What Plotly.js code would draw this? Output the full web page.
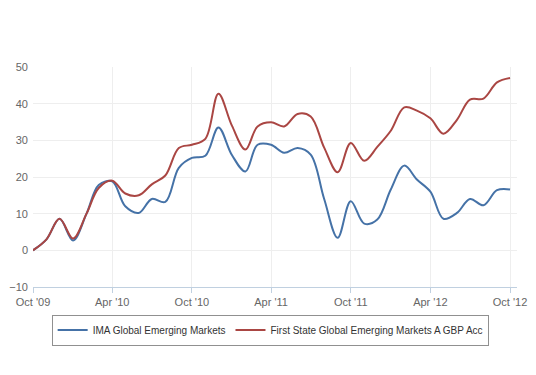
<!DOCTYPE html>
<html>
<head>
<meta charset="utf-8">
<script src="https://cdn.plot.ly/plotly-3.0.1.min.js"></script>
<style>html,body{margin:0;padding:0;background:#fff;}#chart{width:536px;height:375px;}</style>
</head>
<body>
<div id="chart"></div>
<script>
const months = [
  "2009-10-01","2009-11-01","2009-12-01","2010-01-01","2010-02-01","2010-03-01","2010-04-01",
  "2010-05-01","2010-06-01","2010-07-01","2010-08-01","2010-09-01","2010-10-01","2010-11-01",
  "2010-12-01","2011-01-01","2011-02-01","2011-03-01","2011-04-01","2011-05-01","2011-06-01",
  "2011-07-01","2011-08-01","2011-09-01","2011-10-01","2011-11-01","2011-12-01","2012-01-01",
  "2012-02-01","2012-03-01","2012-04-01","2012-05-01","2012-06-01","2012-07-01","2012-08-01",
  "2012-09-01","2012-10-01"
];
const imaValues = [
  0, 3, 8.6, 2.7, 10, 17.8, 18.8, 12, 10.2, 14, 13.2, 22.5, 25.2, 25.8, 33.5, 26,
  21.5, 28.8, 28.8, 26.6, 27.9, 26.1, 14, 3.4, 13.4, 7.3, 8.4, 16.6, 23.1, 19.3, 16,
  8.6, 10.2, 14, 12.3, 16.4, 16.6
];
const firstStateValues = [
  0, 3, 8.6, 3.2, 10, 17, 19, 15.5, 15, 18, 20.4, 27.9, 28.8, 30.4, 42.7, 34,
  27.5, 33.8, 34.9, 33.8, 37.2, 36.5, 28, 21.3, 29.3, 24.4, 28.2, 32.6, 39, 38.1, 36,
  31.8, 35.6, 41.1, 41.4, 45.8, 47
];
const seriesNames = ["IMA Global Emerging Markets", "First State Global Emerging Markets A GBP Acc"];

const traces = [
  {x: months, y: imaValues, name: seriesNames[0], type: "scatter", mode: "lines",
   line: {color: "#4572A7", width: 2, shape: "spline", smoothing: 1}},
  {x: months, y: firstStateValues, name: seriesNames[1], type: "scatter", mode: "lines",
   line: {color: "#AA4643", width: 2, shape: "spline", smoothing: 1}}
];

const layout = {
  width: 536, height: 375,
  margin: {l: 33, r: 19, t: 67, b: 88},
  paper_bgcolor: "#fff", plot_bgcolor: "#fff",
  font: {family: "Liberation Sans, Arial, sans-serif", size: 11, color: "#666"},
  showlegend: true,
  xaxis: {
    type: "date",
    range: ["2009-10-01", "2012-10-17"],
    tick0: "2009-10-01", dtick: "M6", tickformat: "%b '%y",
    showgrid: true, gridcolor: "#eeeeee", gridwidth: 1,
    showline: true, linecolor: "#c0d0e0", linewidth: 1,
    ticks: "outside", ticklen: 5, tickcolor: "#c0d0e0",
    zeroline: false,
    tickfont: {size: 11, color: "#666"}
  },
  yaxis: {
    range: [-10, 50], dtick: 10, tick0: 0,
    showgrid: true, gridcolor: "#eeeeee", gridwidth: 1,
    zeroline: false, showline: false, ticks: "",
    ticklabelstandoff: 4,
    tickfont: {size: 11, color: "#666"}
  },
  legend: {
    orientation: "h", x: 0.49, xanchor: "center", y: -0.125, yanchor: "top",
    bordercolor: "#909090", borderwidth: 1, bgcolor: "#fff",
    font: {size: 10, color: "#333"},
    itemwidth: 30
  }
};

Plotly.newPlot("chart", traces, layout, {displayModeBar: false, staticPlot: true});
</script>
</body>
</html>
